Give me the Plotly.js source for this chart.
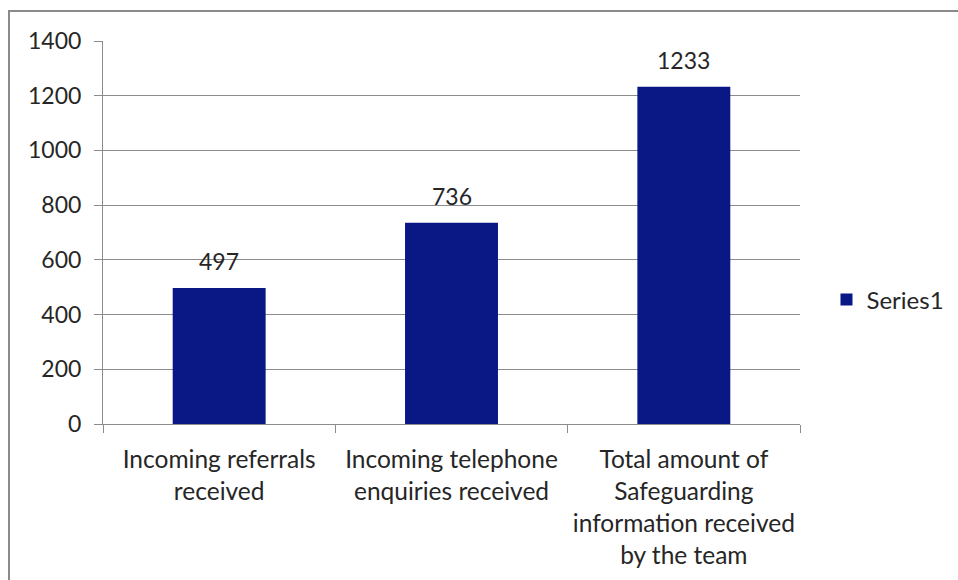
<!DOCTYPE html>
<html>
<head>
<meta charset="utf-8">
<script src="https://cdn.plot.ly/plotly-3.0.1.min.js"></script>
<style>
html, body { margin: 0; padding: 0; background: #fff; }
#wrap { position: relative; width: 958px; height: 580px; overflow: hidden; }
#chart { width: 958px; height: 580px; }
#frame { position: absolute; left: 8px; top: 10px; width: 960px; height: 580px; border-left: 2px solid #8a8a8a; border-top: 2px solid #8a8a8a; pointer-events: none; }
</style>
</head>
<body>
<div id="wrap">
<div id="chart"></div>
<div id="frame"></div>
</div>
<script>
const categories = [
  "Incoming referrals<br>received",
  "Incoming telephone<br>enquiries received",
  "Total amount of<br>Safeguarding<br>information received<br>by the team"
];
const series1 = [497, 736, 1233];
const seriesName = "Series1";
const yTicks = [0, 200, 400, 600, 800, 1000, 1200, 1400];

const FONT = "Lato, 'Open Sans', sans-serif";
const TXT = "#262626";

const trace = {
  type: "bar",
  x: categories,
  y: series1,
  name: seriesName,
  marker: { color: "#0a1886" },
  showlegend: true,
  hoverinfo: "x+y"
};

const annotations = categories.map((c, i) => ({
  x: c, y: series1[i], xref: "x", yref: "y",
  text: String(series1[i]),
  showarrow: false, yanchor: "middle", yshift: 27,
  font: { family: FONT, size: 23, color: TXT }
}));

const layout = {
  width: 958, height: 580,
  margin: { l: 103, r: 158, t: 41, b: 156, autoexpand: false },
  paper_bgcolor: "#fff", plot_bgcolor: "#fff",
  font: { family: FONT, size: 23, color: TXT },
  bargap: 0.6,
  xaxis: {
    type: "category",
    showline: true, linecolor: "#8c8c8c", linewidth: 1,
    ticks: "outside", tickson: "boundaries", ticklen: 8, tickcolor: "#8c8c8c",
    showgrid: false, zeroline: false,
    tickfont: { family: FONT, size: 24.5, color: TXT },
    ticklabelstandoff: 14,
    automargin: false
  },
  yaxis: {
    range: [0, 1400],
    tickvals: yTicks,
    ticktext: yTicks.map(String),
    showline: true, linecolor: "#8c8c8c", linewidth: 1,
    ticks: "outside", ticklen: 8, tickcolor: "#8c8c8c",
    showgrid: true, gridcolor: "#8c8c8c", gridwidth: 1,
    zeroline: false,
    tickfont: { family: FONT, size: 23, color: TXT },
    ticklabelstandoff: 8,
    automargin: false
  },
  legend: {
    x: 1.038, y: 0.324, xanchor: "left", yanchor: "middle",
    font: { family: FONT, size: 24, color: TXT },
    itemwidth: 30
  },
  annotations: annotations
};

Plotly.newPlot("chart", [trace], layout, { displayModeBar: false, staticPlot: true });
</script>
</body>
</html>
